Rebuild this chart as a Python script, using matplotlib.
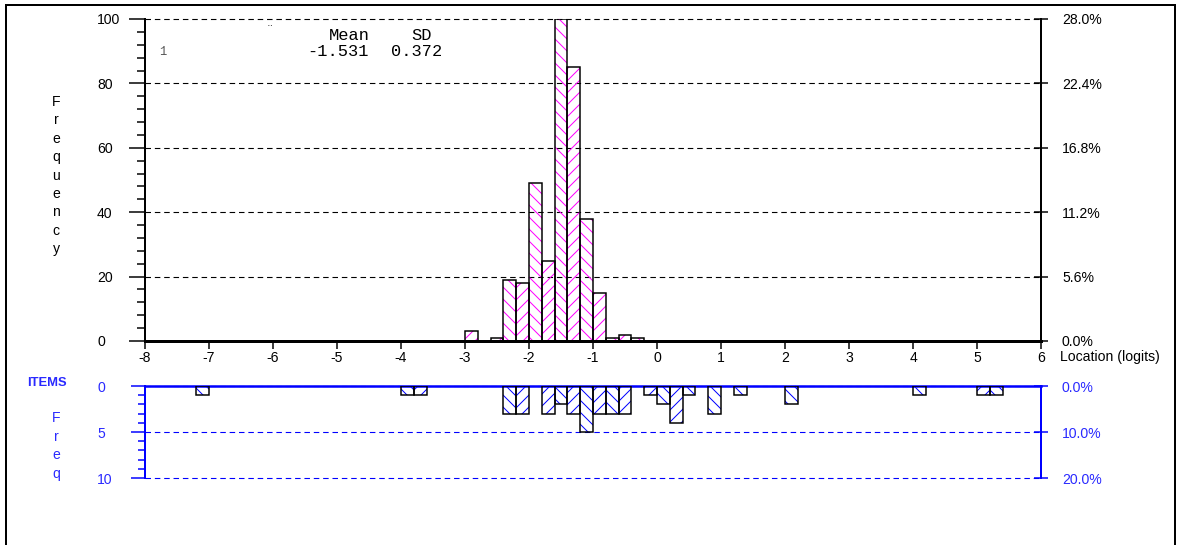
import matplotlib
matplotlib.use("Agg")
import matplotlib.pyplot as plt
from matplotlib.lines import Line2D
from matplotlib.ticker import MultipleLocator

plt.rcParams['font.family'] = ['Liberation Sans', 'DejaVu Sans']
plt.rcParams['hatch.linewidth'] = 1.0

# ---------------- data ----------------
BIN_WIDTH = 0.2
X_MIN, X_MAX = -8, 6
x_ticks = list(range(-8, 7))

person_bin_start = [-3.0, -2.6, -2.4, -2.2, -2.0, -1.8, -1.6, -1.4, -1.2, -1.0, -0.8, -0.6, -0.4]
person_freq = [3, 1, 19, 18, 49, 25, 100, 85, 38, 15, 1, 2, 1]
person_yticks = [0, 20, 40, 60, 80, 100]
person_pct_labels = ["0.0%", "5.6%", "11.2%", "16.8%", "22.4%", "28.0%"]

item_bin_start = [-7.2, -4.0, -3.8, -2.4, -2.2, -1.8, -1.6, -1.4, -1.2, -1.0, -0.8, -0.6,
                  -0.2, 0.0, 0.2, 0.4, 0.8, 1.2, 2.0, 4.0, 5.0, 5.2]
item_freq = [1, 1, 1, 3, 3, 3, 2, 3, 5, 3, 3, 3, 1, 2, 4, 1, 3, 1, 2, 1, 1, 1]
item_yticks = [0, 5, 10]
item_pct_labels = ["0.0%", "10.0%", "20.0%"]

stat_header = ["Mean", "SD"]
stat_values = ["-1.531", "0.372"]

# ---------------- layout ----------------
DPI = 72
W, H = 1179, 545
fig = plt.figure(figsize=(W / DPI, H / DPI), dpi=DPI)
fig.patch.set_facecolor("white")


def fx(px):
    return px / W


def fy(py):
    return 1 - py / H


BLUE = "#0000ff"
BLUE_TXT = "#2a2aff"
MAGENTA = "#ff00ff"
FS = 14
LEFT, RIGHT = 145, 1041

ax = fig.add_axes([fx(LEFT), fy(341), fx(RIGHT) - fx(LEFT), fy(19) - fy(341)])
axb = fig.add_axes([fx(LEFT), fy(478), fx(RIGHT) - fx(LEFT), fy(386) - fy(478)])


def hatch_for(start):
    return '\\\\' if round((start - X_MIN) / BIN_WIDTH) % 2 == 0 else '//'


def draw_hist(a, starts, freqs, hcolor):
    hb = a.bar(starts, freqs, width=BIN_WIDTH, align='edge', fill=False,
               edgecolor=hcolor, linewidth=0, zorder=2)
    for p, s in zip(hb.patches, starts):
        p.set_hatch(hatch_for(s))
    a.bar(starts, freqs, width=BIN_WIDTH, align='edge', fill=False,
          edgecolor='black', linewidth=1.5, zorder=3)


# ---------------- top: persons ----------------
draw_hist(ax, person_bin_start, person_freq, MAGENTA)
ax.set_xlim(X_MIN, X_MAX)
ax.set_ylim(0, 100)
ax.set_xticks(x_ticks)
ax.set_xticklabels([str(t) for t in x_ticks], fontsize=FS)
ax.set_yticks(person_yticks)
ax.set_yticklabels([str(t) for t in person_yticks], fontsize=FS)
ax.yaxis.set_minor_locator(MultipleLocator(4))
ax.tick_params(axis='x', direction='out', length=8, width=1.5, pad=2, colors='black')
ax.tick_params(axis='y', which='major', direction='out', length=16, width=1.5, pad=32)
ax.tick_params(axis='y', which='minor', direction='out', length=8, width=1.5)
for lab in ax.get_yticklabels():
    lab.set_horizontalalignment('left')
ax.grid(axis='y', color='black', linestyle=(0, (5, 3.5)), linewidth=1.1, zorder=1)
for gl in ax.get_ygridlines():
    gl.set_clip_on(False)
ax.set_axisbelow(True)
ax.spines['top'].set_visible(False)
ax.spines['right'].set_visible(False)
ax.spines['left'].set_linewidth(2)
ax.spines['bottom'].set_linewidth(3)
ax.patch.set_alpha(0)

ax2 = ax.twinx()
ax2.set_ylim(0, 100)
ax2.set_yticks(person_yticks)
ax2.set_yticklabels(person_pct_labels, fontsize=FS)
ax2.tick_params(axis='y', direction='inout', length=14, width=1.5, pad=14)
for s in ['top', 'left', 'bottom']:
    ax2.spines[s].set_visible(False)
ax2.spines['right'].set_linewidth(2)

# ---------------- bottom: items ----------------
draw_hist(axb, item_bin_start, item_freq, BLUE)
axb.set_xlim(X_MIN, X_MAX)
axb.set_ylim(10, 0)
axb.set_xticks([])
axb.set_yticks(item_yticks)
axb.set_yticklabels([str(t) for t in item_yticks], fontsize=FS, color=BLUE_TXT)
axb.yaxis.set_minor_locator(MultipleLocator(1))
axb.tick_params(axis='y', which='major', direction='out', length=14, width=1.5, pad=34, color=BLUE)
axb.tick_params(axis='y', which='minor', direction='out', length=7, width=1.5, color=BLUE)
for lab in axb.get_yticklabels():
    lab.set_horizontalalignment('left')
axb.grid(axis='y', color=BLUE, linestyle=(0, (5, 3.5)), linewidth=1.1, zorder=1)
for gl in axb.get_ygridlines():
    gl.set_clip_on(False)
axb.set_axisbelow(True)
axb.spines['bottom'].set_visible(False)
axb.spines['right'].set_visible(False)
axb.spines['top'].set_color(BLUE)
axb.spines['top'].set_linewidth(2.5)
axb.spines['left'].set_color(BLUE)
axb.spines['left'].set_linewidth(2)
axb.patch.set_alpha(0)

axb2 = axb.twinx()
axb2.set_ylim(10, 0)
axb2.set_yticks(item_yticks)
axb2.set_yticklabels(item_pct_labels, fontsize=FS, color=BLUE_TXT)
axb2.tick_params(axis='y', direction='inout', length=14, width=1.5, pad=14, color=BLUE)
for s in ['top', 'left', 'bottom']:
    axb2.spines[s].set_visible(False)
axb2.spines['right'].set_color(BLUE)
axb2.spines['right'].set_linewidth(2)

# ---------------- texts ----------------
fig.text(fx(1060), fy(357), "Location (logits)", fontsize=FS, ha='left', va='center')

for i, ch in enumerate("Frequency"):
    fig.text(fx(56), fy(102 + 18.4 * i), ch, fontsize=FS, ha='center', va='center')
fig.text(fx(47), fy(383), "ITEMS", fontsize=FS - 1, ha='center', va='center',
         color=BLUE_TXT, fontweight='bold', fontstretch='condensed')
for i, ch in enumerate("Freq"):
    fig.text(fx(56), fy(418 + 18.7 * i), ch, fontsize=FS, ha='center', va='center', color=BLUE_TXT)

MONO = ['Liberation Mono', 'DejaVu Sans Mono']
fig.text(fx(370), fy(35), stat_header[0], family=MONO, fontsize=17, ha='right', va='center')
fig.text(fx(432), fy(35), stat_header[1], family=MONO, fontsize=17, ha='right', va='center')
fig.text(fx(369), fy(52), stat_values[0], family=MONO, fontsize=17, ha='right', va='center')
fig.text(fx(442), fy(52), stat_values[1], family=MONO, fontsize=17, ha='right', va='center')
fig.text(fx(163), fy(52), "1", family=MONO, fontsize=12, ha='center', va='center', color='#555555')
fig.text(fx(270), fy(31), "\u00a8", family=MONO, fontsize=14, ha='center', va='center', color='#555555')

# ---------------- frame ----------------
fig.add_artist(Line2D([fx(6), fx(6)], [fy(545), fy(5)], transform=fig.transFigure, color='black', lw=2))
fig.add_artist(Line2D([fx(6), fx(1175)], [fy(5), fy(5)], transform=fig.transFigure, color='black', lw=2))
fig.add_artist(Line2D([fx(1175), fx(1175)], [fy(5), fy(545)], transform=fig.transFigure, color='black', lw=2))

fig.savefig("out.png", dpi=DPI, facecolor='white')
